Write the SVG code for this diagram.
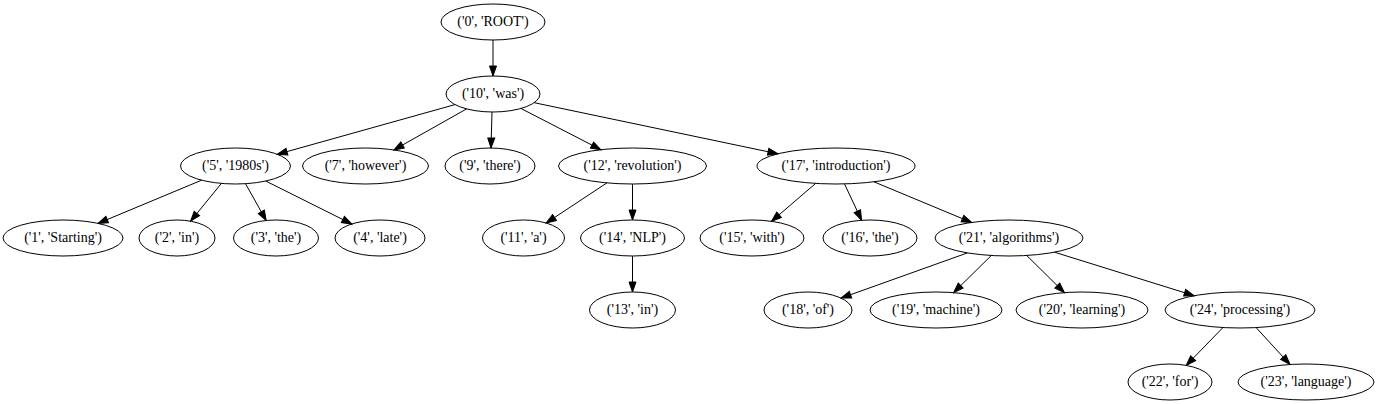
<svg xmlns="http://www.w3.org/2000/svg" width="1378" height="404" viewBox="0 0 1378 404">
<style>
.n ellipse{fill:none;stroke:#000;stroke-width:1}
.n text{font-family:"Liberation Serif","Times New Roman",serif;font-size:14px;text-anchor:middle;fill:#000}
.e line{stroke:#000;stroke-width:1;marker-end:url(#ah)}
</style>
<defs>
<marker id="ah" markerUnits="userSpaceOnUse" markerWidth="12" markerHeight="9" viewBox="-1 -1 12 9" refX="10" refY="3.5" orient="auto">
<path d="M0,0 L10,3.5 L0,7 Z" fill="#000" stroke="#000" stroke-width="1"/>
</marker>
</defs>
<rect width="1378" height="404" fill="#fff"/>
<g id="edges" class="e">
<line x1="493" y1="40" x2="493" y2="76"/>
<line x1="455" y1="104.6" x2="277.3" y2="154.3"/>
<line x1="466.6" y1="108.9" x2="393.9" y2="149.9"/>
<line x1="492" y1="112" x2="491" y2="148"/>
<line x1="521" y1="108.5" x2="600.9" y2="149.7"/>
<line x1="534.2" y1="102.7" x2="777.9" y2="153.8"/>
<line x1="201.6" y1="180.2" x2="98" y2="223.4"/>
<line x1="221.4" y1="183.4" x2="190.6" y2="221.2"/>
<line x1="245.5" y1="183.7" x2="266.2" y2="220.5"/>
<line x1="265.7" y1="181" x2="351.8" y2="224"/>
<line x1="606.9" y1="182.9" x2="546.2" y2="223"/>
<line x1="632.5" y1="184" x2="632.5" y2="220"/>
<line x1="632.5" y1="256" x2="632.5" y2="292"/>
<line x1="815.7" y1="183.4" x2="771.5" y2="221.3"/>
<line x1="844.5" y1="183.9" x2="861.6" y2="220.3"/>
<line x1="873.9" y1="181.8" x2="971.7" y2="222.5"/>
<line x1="967.4" y1="252.9" x2="841.1" y2="298.1"/>
<line x1="991.3" y1="255.5" x2="953.6" y2="292.6"/>
<line x1="1026.7" y1="255.5" x2="1064.4" y2="292.6"/>
<line x1="1054.5" y1="252.2" x2="1194.2" y2="295.7"/>
<line x1="1223" y1="327.5" x2="1186.2" y2="365.4"/>
<line x1="1256.1" y1="327.6" x2="1290" y2="364.5"/>
</g>
<g id="n0" class="n"><ellipse cx="493" cy="22" rx="52" ry="18"/><text x="493" y="26">('0', 'ROOT')</text></g>
<g id="n10" class="n"><ellipse cx="493" cy="94" rx="47" ry="18"/><text x="493" y="98">('10', 'was')</text></g>
<g id="n5" class="n"><ellipse cx="235.5" cy="166" rx="55" ry="18"/><text x="235.5" y="170">('5', '1980s')</text></g>
<g id="n7" class="n"><ellipse cx="365.5" cy="166" rx="63" ry="18"/><text x="365.5" y="170">('7', 'however')</text></g>
<g id="n9" class="n"><ellipse cx="490" cy="166" rx="45" ry="18"/><text x="490" y="170">('9', 'there')</text></g>
<g id="n12" class="n"><ellipse cx="632.5" cy="166" rx="74" ry="18"/><text x="632.5" y="170">('12', 'revolution')</text></g>
<g id="n17" class="n"><ellipse cx="836" cy="166" rx="79" ry="18"/><text x="836" y="170">('17', 'introduction')</text></g>
<g id="n1" class="n"><ellipse cx="63" cy="238" rx="60" ry="18"/><text x="63" y="242">('1', 'Starting')</text></g>
<g id="n2" class="n"><ellipse cx="177" cy="238" rx="38" ry="18"/><text x="177" y="242">('2', 'in')</text></g>
<g id="n3" class="n"><ellipse cx="276" cy="238" rx="42.5" ry="18"/><text x="276" y="242">('3', 'the')</text></g>
<g id="n4" class="n"><ellipse cx="380" cy="238" rx="45" ry="18"/><text x="380" y="242">('4', 'late')</text></g>
<g id="n11" class="n"><ellipse cx="523.5" cy="238" rx="41" ry="18"/><text x="523.5" y="242">('11', 'a')</text></g>
<g id="n14" class="n"><ellipse cx="632.5" cy="238" rx="52" ry="18"/><text x="632.5" y="242">('14', 'NLP')</text></g>
<g id="n15" class="n"><ellipse cx="752" cy="238" rx="52" ry="18"/><text x="752" y="242">('15', 'with')</text></g>
<g id="n16" class="n"><ellipse cx="870" cy="238" rx="47" ry="18"/><text x="870" y="242">('16', 'the')</text></g>
<g id="n21" class="n"><ellipse cx="1009" cy="238" rx="74" ry="18"/><text x="1009" y="242">('21', 'algorithms')</text></g>
<g id="n13" class="n"><ellipse cx="632.5" cy="310" rx="43" ry="18"/><text x="632.5" y="314">('13', 'in')</text></g>
<g id="n18" class="n"><ellipse cx="808" cy="310" rx="44" ry="18"/><text x="808" y="314">('18', 'of')</text></g>
<g id="n19" class="n"><ellipse cx="936" cy="310" rx="66" ry="18"/><text x="936" y="314">('19', 'machine')</text></g>
<g id="n20" class="n"><ellipse cx="1082" cy="310" rx="66" ry="18"/><text x="1082" y="314">('20', 'learning')</text></g>
<g id="n24" class="n"><ellipse cx="1240" cy="310" rx="75" ry="18"/><text x="1240" y="314">('24', 'processing')</text></g>
<g id="n22" class="n"><ellipse cx="1170" cy="382" rx="42" ry="18"/><text x="1170" y="386">('22', 'for')</text></g>
<g id="n23" class="n"><ellipse cx="1306" cy="382" rx="68" ry="18"/><text x="1306" y="386">('23', 'language')</text></g>
</svg>
